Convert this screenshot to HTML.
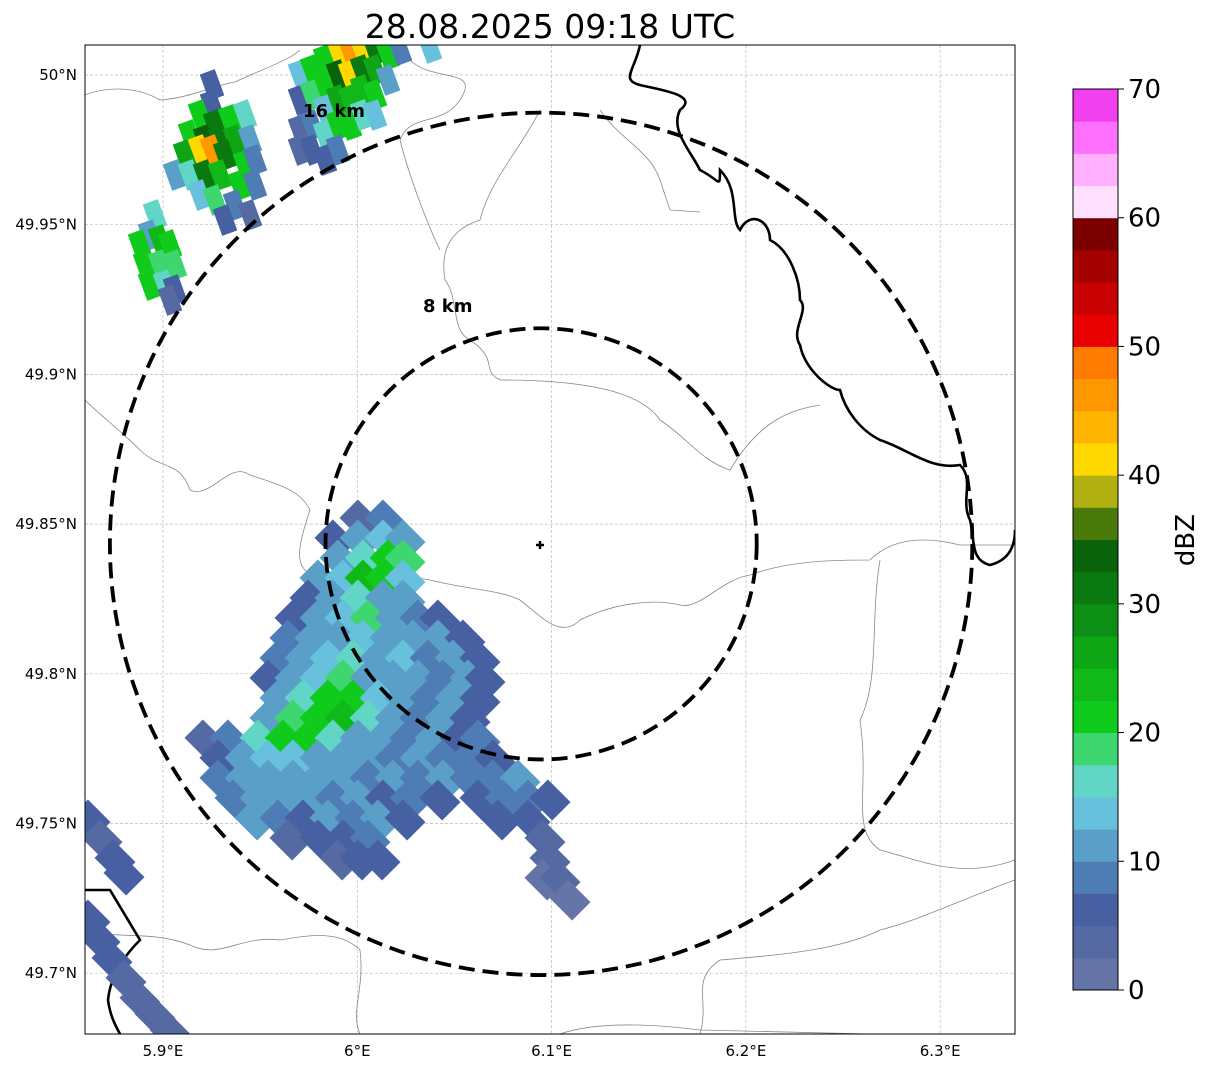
<!DOCTYPE html>
<html><head><meta charset="utf-8"><style>
body{margin:0;background:#fff;font-family:"Liberation Sans","DejaVu Sans",sans-serif}
svg text{font-family:"DejaVu Sans","Liberation Sans",sans-serif}
</style></head><body>
<svg id="chart" width="1207" height="1069" viewBox="0 0 1207 1069" xmlns="http://www.w3.org/2000/svg">
<defs><clipPath id="pc"><rect x="85" y="45" width="930" height="989"/></clipPath></defs>
<text x="550" y="38" font-size="33" text-anchor="middle">28.08.2025 09:18 UTC</text>
<g id="grid"></g>
<g clip-path="url(#pc)">
<g id="borders" fill="none">
<path d="M85,95 C110,85 140,88 160,100 C190,98 215,85 235,82 C260,70 290,60 300,50" stroke="#888" stroke-width="0.8"/>
<path d="M85,400 C100,415 120,430 140,450 C160,470 180,460 190,490 C210,500 230,460 250,475 C280,485 300,490 310,510 C300,540 295,560 305,570 C330,590 380,570 430,580 C470,590 500,590 520,600 C540,615 560,640 580,620 C620,600 660,600 680,605 C700,610 720,580 750,575 C790,560 840,560 870,560 C890,540 920,535 960,545 L1015,545" stroke="#888" stroke-width="0.8"/>
<path d="M540,110 C520,150 490,180 480,220 C450,230 440,250 445,280 C460,300 450,330 470,340 C500,360 480,370 500,380 C580,380 640,390 660,420 C690,440 700,460 730,470 C760,420 790,410 820,405" stroke="#888" stroke-width="0.8"/>
<path d="M600,110 C620,140 650,150 660,180 L670,210 L700,212" stroke="#888" stroke-width="0.8"/>
<path d="M410,60 C430,80 470,70 465,90 C450,130 410,110 400,140 C410,180 430,230 440,250" stroke="#888" stroke-width="0.8"/>
<path d="M85,930 C120,940 150,930 190,945 C220,960 240,935 280,940 C310,935 340,930 360,950 C365,990 350,1010 360,1034" stroke="#888" stroke-width="0.8"/>
<path d="M700,1034 C710,1000 690,980 720,960 C780,955 840,950 880,930 C920,920 960,900 1015,880" stroke="#888" stroke-width="0.8"/>
<path d="M880,560 C870,620 880,680 860,720 C870,790 850,830 880,850 C920,860 960,880 1015,860" stroke="#888" stroke-width="0.8"/>
<path d="M560,1034 C600,1020 660,1025 700,1030 L870,1034" stroke="#888" stroke-width="0.8"/>
<path d="M640,45 C635,70 620,80 640,85 C660,90 700,95 680,110 C670,130 690,150 700,170 C720,180 720,190 720,170 C740,190 730,220 740,230 C750,210 770,220 770,240 C790,250 800,280 800,300 C810,310 790,330 800,345 C805,370 830,390 840,390 C845,410 860,430 880,440 C910,450 930,470 960,465 C975,480 960,500 970,520 C975,540 970,560 990,565 C1010,560 1015,545 1015,530" stroke="#000" stroke-width="2.6"/>
<path d="M85,890 L110,890 L140,940 C120,960 110,980 108,1000 C110,1015 115,1025 120,1034" stroke="#000" stroke-width="2.6"/>
</g>
<g id="cells"></g>
</g>
<g id="rings" fill="none" stroke="#000" stroke-width="3.8" stroke-dasharray="16,8"></g>
<path d="M540,541 v8 M536,545 h8" stroke="#000" stroke-width="2.5"/>
<text x="303" y="117" font-size="18" font-weight="bold">16 km</text>
<text x="423" y="312" font-size="18" font-weight="bold">8 km</text>
<rect x="85" y="45" width="930" height="989" fill="none" stroke="#000" stroke-width="1"/>
<g id="axes" font-size="15"></g>
<g id="cbar"></g>
<text x="1194" y="540" font-size="26" text-anchor="middle" transform="rotate(-90 1194 540)">dBZ</text>
</svg>
<script>
const lonTicks=[5.9,6.0,6.1,6.2,6.3];
const lonLabels=["5.9°E","6°E","6.1°E","6.2°E","6.3°E"];
const latTicks=[49.7,49.75,49.8,49.85,49.9,49.95,50.0];
const latLabels=["49.7°N","49.75°N","49.8°N","49.85°N","49.9°N","49.95°N","50°N"];
const cbTicks=[0,10,20,30,40,50,60,70];
const cbColors=["#6474a6","#5569a2","#4660a2","#4e7cb4","#5a9fc8","#67c0dc","#62d6c6","#3ed66e","#10cb1c","#10b918","#0ea614","#0c8f14","#0a7a10","#0a620a","#4a7a0a","#b0b010","#ffd800","#ffb400","#ff9800","#ff7c00","#e80000","#c80000","#a40000","#7c0000","#ffe0ff","#ffb0ff","#ff70ff","#f040f0"];
const ringKm=[8,16];
const siteLon=6.0946, siteLat=49.8434;
// SW blob rows: y pixel row, then [x, dBZ] pairs
const swRows=[
[520,[[360,4],[385,8]]],
[540,[[335,6],[360,10],[385,14],[405,12]]],
[560,[[340,12],[365,16],[390,20],[405,18]]],
[580,[[320,10],[345,14],[365,24],[385,20],[405,14]]],
[600,[[310,6],[335,12],[360,16],[385,12],[405,10]]],
[620,[[295,6],[320,10],[345,14],[370,18],[395,12],[420,8],[440,6]]],
[640,[[290,8],[315,12],[340,12],[365,14],[390,10],[415,12],[440,10],[465,6]]],
[660,[[280,8],[305,10],[330,14],[355,16],[380,12],[405,14],[430,8],[455,10],[480,6]]],
[680,[[270,6],[295,10],[320,14],[345,18],[370,12],[395,10],[420,12],[445,8],[470,10],[485,6]]],
[700,[[280,10],[305,16],[330,22],[355,20],[380,14],[405,10],[430,8],[455,10],[480,6]]],
[720,[[270,12],[295,18],[320,22],[345,24],[370,16],[395,12],[420,8],[445,10],[470,6]]],
[740,[[205,4],[230,8],[260,16],[285,22],[310,20],[335,16],[360,12],[385,10],[410,8],[435,10],[460,6],[480,8]]],
[760,[[220,6],[245,10],[270,14],[295,14],[320,12],[345,10],[370,12],[395,8],[420,10],[445,8],[470,8],[495,6]]],
[780,[[220,8],[245,10],[270,12],[295,10],[320,12],[345,10],[370,8],[395,10],[420,8],[445,10],[470,8],[495,8],[520,10]]],
[800,[[235,8],[260,10],[285,12],[310,10],[335,8],[360,10],[385,6],[410,8],[440,6],[480,6],[505,8],[530,8],[550,6]]],
[820,[[255,10],[280,8],[305,6],[330,10],[355,8],[380,10],[405,6],[500,6],[530,6]]],
[840,[[290,4],[320,6],[345,6],[370,8],[545,3]]],
[860,[[340,4],[360,6],[380,6],[550,3]]],
[880,[[545,2],[560,3]]],
[900,[[570,2]]],
[820,[[90,6]]],[840,[[102,4]]],[860,[[115,6]]],[875,[[124,5]]],
[920,[[90,6]]],[940,[[100,6]]],[960,[[112,5]]],[980,[[126,4]]],[1000,[[140,4]]],[1016,[[155,3]]],[1032,[[170,3]]]
];
// NW storms: [x, y, dBZ]
const nwCells=[[300,75,14],[300,100,6],[300,130,4],[300,150,4],[312,70,20],[312,95,18],[312,125,8],[312,150,5],[325,60,22],[325,85,20],[325,110,14],[325,135,16],[325,160,5],[338,50,42],[338,75,34],[338,100,26],[338,125,22],[338,150,8],[350,50,46],[350,75,40],[350,100,24],[350,125,20],[362,50,42],[362,70,32],[362,90,24],[362,115,16],[375,50,30],[375,70,26],[375,95,20],[375,115,14],[388,55,20],[388,80,12],[400,50,8],[430,48,14],
[212,85,6],[212,105,6],[200,115,20],[215,125,30],[230,120,22],[245,115,16],[190,135,22],[205,140,34],[220,140,30],[235,140,26],[250,140,12],[185,155,26],[200,150,40],[212,150,46],[225,155,32],[245,165,20],[255,160,8],[175,175,10],[190,175,16],[205,175,32],[220,175,24],[240,185,20],[255,185,8],[200,195,14],[215,200,18],[235,205,8],[225,220,6],[250,215,4],
[155,215,16],[150,235,10],[140,245,22],[160,240,24],[170,245,22],[145,265,20],[160,265,18],[175,265,18],[150,285,22],[165,285,16],[175,290,6],[170,300,4]];

const X=lon=>163+(lon-5.9)*1943;
const Y=lat=>75+(50-lat)*2994;
const cbY=v=>990-v*(901/70);
const NS="http://www.w3.org/2000/svg";
function mk(t,a,p){const e=document.createElementNS(NS,t);for(const k in a)e.setAttribute(k,a[k]);p.appendChild(e);return e;}
const grid=document.getElementById('grid'),axes=document.getElementById('axes');
lonTicks.forEach((v,i)=>{
 const l=mk('line',{x1:X(v),x2:X(v),y1:45,y2:1034,stroke:'#bbb','stroke-width':0.7,'stroke-dasharray':'3,2'},grid);
 
 
 const t=mk('text',{x:X(v),y:1056,'text-anchor':'middle'},axes);t.textContent=lonLabels[i];
 
 
});
latTicks.forEach((v,i)=>{
 const l=mk('line',{x1:85,x2:1015,y1:Y(v),y2:Y(v),stroke:'#bbb','stroke-width':0.7,'stroke-dasharray':'3,2'},grid);
 
 
 const t=mk('text',{x:77,y:Y(v)+5,'text-anchor':'end'},axes);t.textContent=latLabels[i];
 
 
});
const cells=document.getElementById('cells');
const col=d=>cbColors[Math.min(27,Math.floor(d/2.5))];
swRows.forEach(row=>{
 const y=row[0];
 row[1].forEach(p=>{
  const x=p[0];
  const r=mk('rect',{x:x-16,y:y-13,width:32,height:26,fill:col(p[1]),transform:`rotate(45 ${x} ${y})`},cells);
  
  
 });
});
nwCells.forEach(c=>{
 const x=c[0],y=c[1];
 const r=mk('rect',{x:x-8,y:y-14,width:16,height:28,fill:col(c[2]),transform:`rotate(-20 ${x} ${y})`},cells);
 
 
});
const cx=X(siteLon),cy=Y(siteLat);
const rings=document.getElementById('rings');
ringKm.forEach(k=>{
 const c=mk('circle',{cx:cx,cy:cy,r:k*26.95},rings);
 
 
});
const cb=document.getElementById('cbar');
cbColors.forEach((c,i)=>{
 const r=mk('rect',{x:1073,y:cbY((i+1)*2.5),width:45,height:cbY(i*2.5)-cbY((i+1)*2.5)+0.5,fill:c},cb);
 
 
});
mk('rect',{x:1073,y:89,width:45,height:901,fill:'none',stroke:'#000','stroke-width':1},cb);
cbTicks.forEach(v=>{
 mk('line',{x1:1118,x2:1124,y1:cbY(v),y2:cbY(v),stroke:'#000'},cb);
 const t=mk('text',{x:1128,y:cbY(v)+9,'font-size':26},cb);t.textContent=v;
 
 
});
</script>
</body></html>
